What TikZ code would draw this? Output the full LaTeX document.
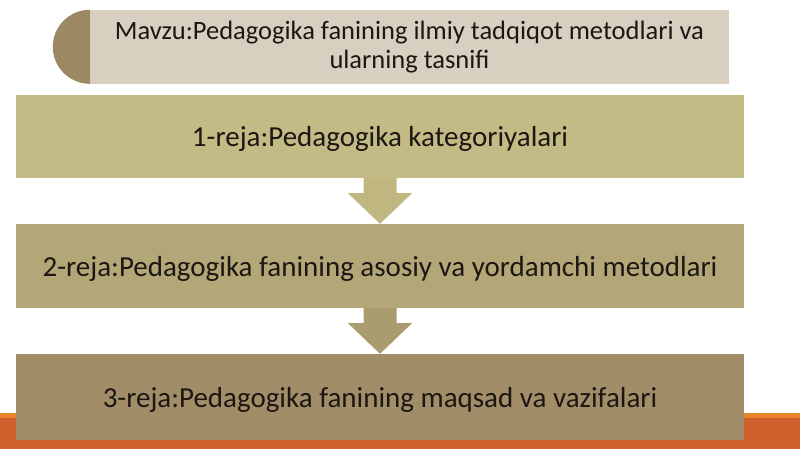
\documentclass[tikz,border=0pt]{standalone}
\usepackage{fontspec}
\setmainfont{Carlito}
\usetikzlibrary{calc}
\definecolor{titlegray}{HTML}{D8CFC0}
\definecolor{halfdisc}{HTML}{9C8964}
\definecolor{olivea}{HTML}{C3BB86}
\definecolor{oliveb}{HTML}{B4A777}
\definecolor{olivec}{HTML}{A18D68}
\definecolor{arrowa}{HTML}{BFB680}
\definecolor{arrowb}{HTML}{AB9C70}
\definecolor{bandorange}{HTML}{CF5F2D}
\definecolor{bandlight}{HTML}{E8862C}
\definecolor{ink}{HTML}{1C1712}
\begin{document}
\begin{tikzpicture}[x=1pt, y=1pt, text=ink,
    planbox/.style={rectangle, inner sep=0pt, minimum width=728pt, text height=24pt, text depth=3pt,
                    font=\fontsize{29}{34}\selectfont}]
  \useasboundingbox (0,0) rectangle (800,449);
  % orange band along the bottom
  \fill[bandorange] (0,0) rectangle (800,36);
  \fill[bandlight] (0,31) rectangle (800,36);
  % topic
  \node[fill=titlegray, inner sep=0pt, minimum width=639pt, minimum height=74pt, align=center,
        font=\fontsize{26.5}{29}\selectfont] (topic) at (409.5,402)
        {Mavzu:Pedagogika fanining ilmiy tadqiqot metodlari va\\ularning tasnifi};
  \fill[halfdisc] (topic.north west) arc[start angle=90, end angle=270, radius=37pt] -- cycle;
  % plan boxes
  \node[planbox, fill=olivea, minimum height=83pt] (plana) at (380,312.5) {1-reja:Pedagogika kategoriyalari};
  \node[planbox, fill=oliveb, minimum height=84pt] (planb) at (380,183) {2-reja:Pedagogika fanining asosiy va yordamchi metodlari};
  \node[planbox, fill=olivec, minimum height=86pt] (planc) at (380,52) {3-reja:Pedagogika fanining maqsad va vazifalari};
  % block arrows
  \fill[arrowa] ($(plana.south)+(-16.5,0)$) -- ($(plana.south)+(16.5,0)$) -- ($(plana.south)+(16.5,-15)$)
    -- ($(plana.south)+(32,-15)$) -- (planb.north) -- ($(plana.south)+(-32,-15)$) -- ($(plana.south)+(-16.5,-15)$) -- cycle;
  \fill[arrowb] ($(planb.south)+(-16.5,0)$) -- ($(planb.south)+(16.5,0)$) -- ($(planb.south)+(16.5,-15)$)
    -- ($(planb.south)+(32,-15)$) -- (planc.north) -- ($(planb.south)+(-32,-15)$) -- ($(planb.south)+(-16.5,-15)$) -- cycle;
\end{tikzpicture}
\end{document}
